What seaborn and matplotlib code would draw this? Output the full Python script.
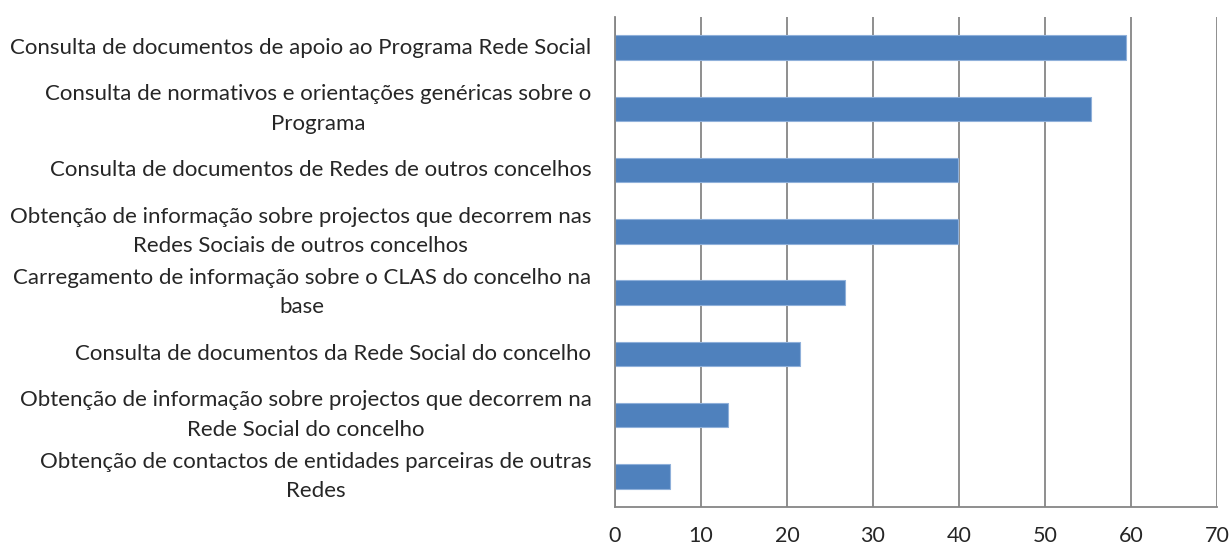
import matplotlib
matplotlib.use("Agg")
import matplotlib.pyplot as plt
import seaborn as sns
import pandas as pd
from matplotlib.ticker import MultipleLocator

# ------------------------------------------
# Data
# ------------------------------------------
categorias = [
    "Consulta de documentos de apoio ao Programa Rede Social",
    "Consulta de normativos e orientações genéricas sobre o\nPrograma",
    "Consulta de documentos de Redes de outros concelhos",
    "Obtenção de informação sobre projectos que decorrem nas\nRedes Sociais de outros concelhos",
    "Carregamento de informação sobre o CLAS do concelho na\nbase",
    "Consulta de documentos da Rede Social do concelho",
    "Obtenção de informação sobre projectos que decorrem na\nRede Social do concelho",
    "Obtenção de contactos de entidades parceiras de outras\nRedes",
]
valores = [59.4, 55.4, 39.9, 39.9, 26.7, 21.5, 13.1, 6.4]
x_ticks = [0, 10, 20, 30, 40, 50, 60, 70]

df = pd.DataFrame({"categoria": categorias, "valor": valores})

# ------------------------------------------
# Plot
# ------------------------------------------
sns.set_style("white")
plt.rcParams["font.family"] = ["Lato", "DejaVu Sans"]

fig = plt.figure(figsize=(12.3, 5.48), dpi=100)
ax = fig.add_axes([0.5, 0.0748, 0.4894, 0.8942])

sns.barplot(data=df, x="valor", y="categoria", orient="h", color="#4F81BD",
            width=0.4, edgecolor="#8FB0DA", linewidth=0.8, saturation=1, ax=ax)

ax.set_xlim(0, 70)
ax.set_ylim(7.5, -0.5)
ax.set_xticks(x_ticks)
ax.set_xticklabels([str(t) for t in x_ticks], fontsize=15.5)
ax.set_xlabel("")
ax.set_ylabel("")

# vertical gridlines
ax.grid(axis="x", color="#868686", linewidth=1.3)
ax.set_axisbelow(True)

# spines
for s in ["top", "right"]:
    ax.spines[s].set_visible(False)
for s in ["left", "bottom"]:
    ax.spines[s].set_color("#868686")
    ax.spines[s].set_linewidth(1.3)

# y labels: right aligned block, centred lines
ax.tick_params(axis="y", which="major", length=0, pad=17, labelsize=16.05)
for lab in ax.get_yticklabels():
    lab.set_multialignment("center")
    lab.set_linespacing(1.6)
    lab.set_verticalalignment("center")
ax.yaxis.set_minor_locator(MultipleLocator(1))
ax.set_yticks([i - 0.5 for i in range(9)], minor=True)
ax.tick_params(axis="y", which="minor", length=6, width=1.3, color="#868686", direction="out")
ax.tick_params(axis="x", which="major", length=5, width=1.3, color="#868686", direction="out",
               pad=9)

plt.savefig("out.png", dpi=100)
